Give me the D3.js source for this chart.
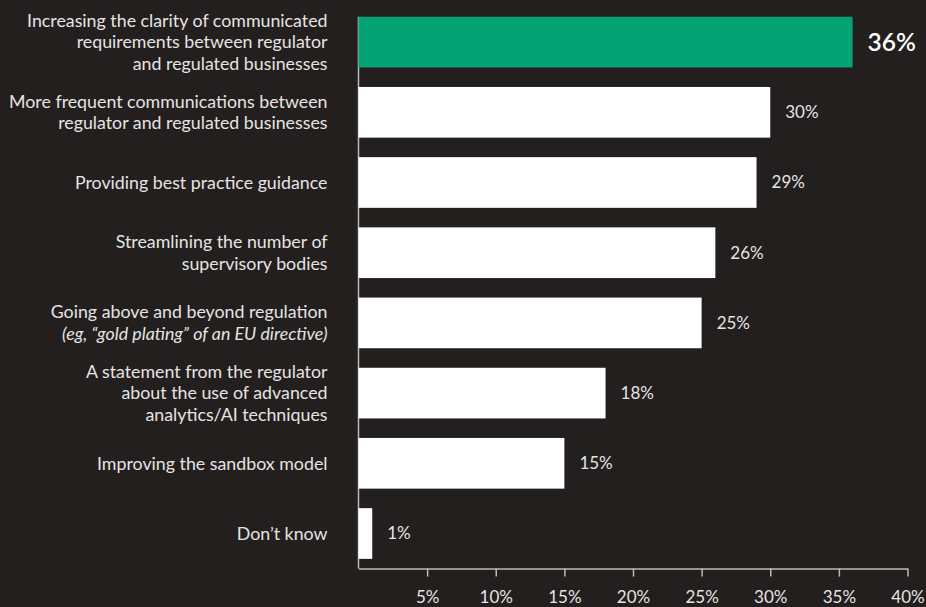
<!DOCTYPE html>
<html>
<head>
<meta charset="utf-8">
<script src="https://cdn.jsdelivr.net/npm/d3@7"></script>
<style>
  html, body { margin: 0; padding: 0; background: #221f1e; }
  svg { display: block; }
  text { font-family: "Source Sans Pro", Lato, "Noto Sans", sans-serif; }
</style>
</head>
<body>
<svg id="chart" width="926" height="607"></svg>
<script>
// Survey answers, each label split into its display lines
const categories = [
  ["Increasing the clarity of communicated", "requirements between regulator", "and regulated businesses"],
  ["More frequent communications between", "regulator and regulated businesses"],
  ["Providing best practice guidance"],
  ["Streamlining the number of", "supervisory bodies"],
  ["Going above and beyond regulation", "(eg, \u201cgold plating\u201d of an EU directive)"],
  ["A statement from the regulator", "about the use of advanced", "analytics/AI techniques"],
  ["Improving the sandbox model"],
  ["Don\u2019t know"]
];
const italicLines = ["(eg, \u201cgold plating\u201d of an EU directive)"];
const values = [36, 30, 29, 26, 25, 18, 15, 1];
const tickValues = [5, 10, 15, 20, 25, 30, 35, 40];

const svg = d3.select("#chart");
const green = "#03a373", textCol = "#e6e4e2", axisCol = "#bdbbb9";
const fontStack = "\"Source Sans Pro\", Lato, \"Noto Sans\", sans-serif";

const x = d3.scaleLinear().domain([0, 40]).range([358.5, 907.5]);
const y = d3.scaleBand().domain(d3.range(values.length)).range([7, 568.6])
  .paddingInner(0.278).paddingOuter(0.139);

// vertical baseline along the left edge of the bars
svg.append("line")
  .attr("x1", x(0)).attr("x2", x(0))
  .attr("y1", y(0)).attr("y2", 568.6)
  .attr("stroke", axisCol).attr("stroke-width", 1.5);

// bars
svg.append("g").selectAll("rect").data(values).join("rect")
  .attr("x", x(0))
  .attr("y", (d, i) => y(i))
  .attr("width", d => x(d) - x(0))
  .attr("height", y.bandwidth())
  .attr("fill", (d, i) => i === 0 ? green : "#ffffff");

// value labels
svg.append("g").selectAll("text").data(values).join("text")
  .attr("x", d => x(d) + 15)
  .attr("y", (d, i) => y(i) + y.bandwidth() / 2)
  .attr("dy", "0.35em")
  .attr("fill", (d, i) => i === 0 ? "#ffffff" : textCol)
  .attr("font-size", (d, i) => i === 0 ? 24.5 : 17)
  .attr("font-weight", (d, i) => i === 0 ? 600 : 400)
  .text(d => d + "%");

// category labels
const lineH = 21.7;
const labels = svg.append("g").selectAll("text").data(categories).join("text")
  .attr("text-anchor", "end")
  .attr("fill", textCol)
  .attr("font-size", 17.8)
  .attr("y", (d, i) => y(i) + y.bandwidth() / 2 - (d.length - 1) * lineH / 2);
labels.selectAll("tspan").data(d => d).join("tspan")
  .attr("x", 327.5)
  .attr("dy", (d, j) => j === 0 ? "0.35em" : lineH)
  .attr("font-style", d => italicLines.includes(d) ? "italic" : "normal")
  .text(d => d);

// x axis
const axis = d3.axisBottom(x)
  .tickValues(tickValues)
  .tickFormat(d => d + "%")
  .tickSize(8)
  .tickSizeOuter(0)
  .tickPadding(14);
const gx = svg.append("g").attr("transform", "translate(0,568.6)").call(axis);
gx.select(".domain").attr("stroke", axisCol).attr("stroke-width", 1.5);
gx.selectAll(".tick line").attr("stroke", axisCol).attr("stroke-width", 1.5);
gx.selectAll(".tick text").attr("fill", textCol).attr("font-size", 17)
  .attr("font-family", fontStack);
</script>
</body>
</html>
